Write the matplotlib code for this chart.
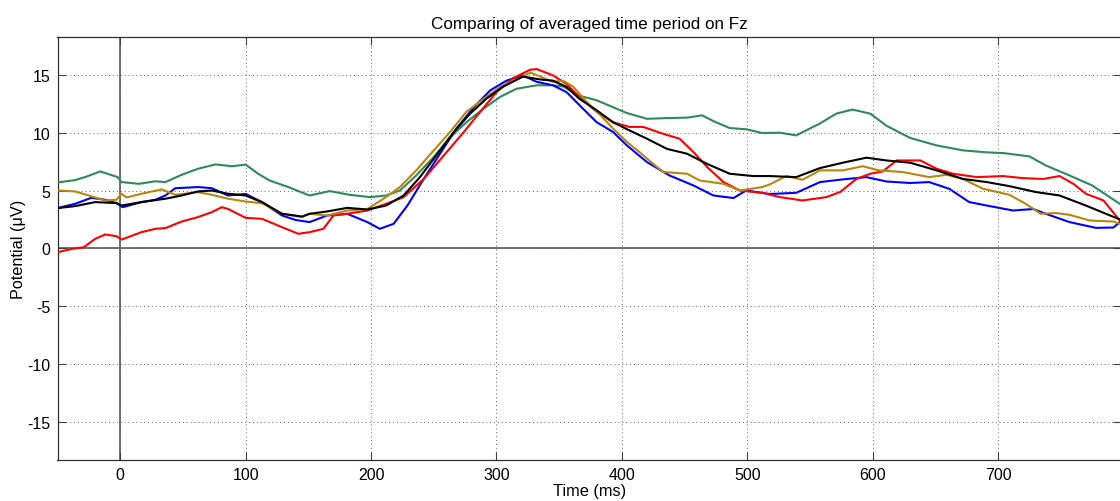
import matplotlib
matplotlib.use("Agg")
import matplotlib.pyplot as plt

plt.rcParams['font.family'] = ['Liberation Sans', 'DejaVu Sans']
plt.rcParams['axes.unicode_minus'] = False

title = "Comparing of averaged time period on Fz"
xlabel = "Time (ms)"
ylabel = "Potential (\u03bcV)"
xticks = [0, 100, 200, 300, 400, 500, 600, 700]
yticks = [-15, -10, -5, 0, 5, 10, 15]

# ---- series (time in ms, potential in uV) ----
green_t = [-50, -36, -27, -16, -2, 1, 15, 28, 36, 49, 62, 76, 89, 100, 110, 119, 134, 146,
           151, 167, 183, 199, 212, 223, 236, 250, 263, 276, 290, 303, 316, 332, 345,
           353, 366, 380, 393, 404, 420, 438, 452, 464, 473, 486, 499, 512, 526,
           539, 558, 571, 584, 598, 611, 630, 651, 672, 691, 704, 725, 738, 757, 775, 797]
green_y = [5.7, 5.9, 6.2, 6.65, 6.16, 5.73, 5.58, 5.8, 5.73, 6.36, 6.88, 7.26, 7.1, 7.24, 6.45, 5.87, 5.3, 4.78,
           4.57, 4.95, 4.63, 4.43, 4.57, 5.0, 6.3, 7.9, 9.6, 10.9, 12.1, 13.1, 13.8, 14.1, 14.1,
           14.0, 13.2, 12.8, 12.2, 11.7, 11.2, 11.27, 11.3, 11.5, 11.0, 10.4, 10.3, 9.97, 10.0,
           9.77, 10.8, 11.65, 12.0, 11.65, 10.6, 9.54, 8.9, 8.47, 8.3, 8.24, 7.95, 7.17, 6.3, 5.44, 3.85]

black_t = [-50, -36, -20, -3, 1, 17, 36, 49, 62, 73, 86, 100, 113, 129, 145,
           151, 165, 181, 197, 212, 226, 239, 252, 266, 279, 292, 305, 321, 335, 345,
           356, 366, 380, 393, 406, 420, 436, 452, 468, 486, 505, 518,
           539, 558, 576, 595, 611, 630, 651, 672, 691, 709, 730, 749, 770, 797]
black_y = [3.48, 3.65, 4.0, 3.91, 3.7, 4.0, 4.29, 4.57, 4.92, 5.0, 4.72, 4.57, 4.0, 2.99, 2.75,
           2.99, 3.19, 3.5, 3.36, 3.7, 4.57, 6.16, 8.03, 10.06, 11.65, 12.94, 13.96, 14.85, 14.6, 14.5,
           13.95, 12.94, 11.93, 10.9, 10.2, 9.48, 8.6, 8.18, 7.3, 6.45, 6.25, 6.25,
           6.16, 6.94, 7.4, 7.84, 7.6, 7.4, 6.74, 6.0, 5.73, 5.38, 4.87, 4.57, 3.7, 2.5]

blue_t = [-50, -36, -23, -12, -3, 2, 17, 28, 36, 44, 62, 73, 86, 100, 113, 129, 140,
          151, 165, 181, 197, 207, 218, 229, 242, 255, 268, 282, 295, 308, 321, 332, 345,
          356, 366, 380, 393, 404, 420, 438, 457, 473, 489, 499, 518,
          539, 558, 576, 595, 611, 630, 645, 661, 677, 691, 712, 728, 738, 757, 778, 792, 797]
blue_y = [3.48, 3.85, 4.37, 4.2, 3.91, 3.56, 4.0, 4.2, 4.57, 5.2, 5.3, 5.2, 4.57, 4.7, 4.0, 2.84, 2.45,
          2.27, 2.84, 2.99, 2.27, 1.69, 2.12, 3.7, 6.0, 8.18, 10.35, 12.2, 13.66, 14.5, 14.96, 14.4, 14.1,
          13.5, 12.4, 10.9, 10.06, 8.9, 7.46, 6.3, 5.44, 4.57, 4.35, 5.0, 4.7,
          4.8, 5.73, 5.96, 6.16, 5.78, 5.65, 5.73, 5.15, 4.0, 3.7, 3.27, 3.4, 2.99, 2.27, 1.77, 1.8, 2.27]

red_t = [-50, -38, -29, -20, -12, -3, 1, 17, 28, 36, 49, 62, 73, 81, 86, 100, 113, 129, 142,
         151, 162, 170, 181, 197, 212, 226, 242, 258, 274, 287, 300, 313, 327, 332, 345,
         356, 366, 380, 393, 406, 417, 433, 446, 457, 468, 481, 494, 512, 526,
         544, 563, 574, 587, 598, 608, 619, 638, 651, 664, 683, 704, 720, 736, 749, 760, 770, 784, 797]
red_y = [-0.33, -0.04, 0.1, 0.82, 1.2, 1.05, 0.76, 1.4, 1.69, 1.75, 2.32, 2.7, 3.13, 3.56, 3.4, 2.64, 2.55, 1.83, 1.26,
         1.4, 1.69, 2.84, 2.99, 3.27, 3.85, 4.43, 6.0, 8.03, 10.06, 11.8, 13.5, 14.7, 15.45, 15.5, 14.96,
         14.2, 13.1, 11.8, 10.9, 10.5, 10.5, 9.9, 9.48, 8.33, 7.03, 5.73, 5.0, 4.8, 4.43,
         4.14, 4.43, 4.87, 6.0, 6.45, 6.65, 7.6, 7.6, 6.88, 6.45, 6.16, 6.25, 6.07, 6.0, 6.25, 5.58, 4.72, 4.14, 2.41]

gold_t = [-50, -36, -25, -12, -3, 1, 5, 17, 33, 44, 62, 73, 86, 100, 113, 129, 145,
          151, 165, 181, 197, 210, 223, 236, 250, 263, 276, 290, 303, 316, 327, 345,
          353, 361, 372, 383, 393, 404, 414, 425, 433, 452, 462, 481, 494, 512, 518,
          531, 544, 558, 576, 592, 605, 624, 645, 659, 672, 688, 709, 722, 734, 746, 757, 773, 792, 797]
gold_y = [5.0, 4.92, 4.57, 4.14, 4.2, 4.72, 4.4, 4.72, 5.1, 4.63, 4.86, 4.63, 4.29, 4.05, 3.9, 2.99, 2.7,
          2.99, 2.84, 3.27, 3.4, 4.29, 5.3, 6.74, 8.47, 10.06, 11.8, 12.94, 13.96, 14.6, 15.2, 14.4,
          14.5, 14.0, 12.66, 11.5, 10.35, 9.2, 8.33, 7.3, 6.6, 6.45, 5.87, 5.58, 5.0, 5.3, 5.53,
          6.25, 5.93, 6.74, 6.74, 7.1, 6.74, 6.6, 6.16, 6.36, 6.0, 5.15, 4.63, 3.85, 2.99, 3.05, 2.9, 2.41, 2.32, 2.12]

series = [
    (green_t, green_y, '#2e8b57'),
    (blue_t, blue_y, '#0000ff'),
    (red_t, red_y, '#ff0000'),
    (gold_t, gold_y, '#b8860b'),
    (black_t, black_y, '#000000'),
]

fig = plt.figure(figsize=(11.2, 5.02), dpi=100)
ax = fig.add_axes([57.5 / 1120, 1 - 461 / 502, (1121 - 57.5) / 1120, (461 - 37.7) / 502])

ax.axhline(0, color='#707070', lw=1.4, zorder=1)
ax.axvline(0, color='#707070', lw=1.4, zorder=1)

for t, y, c in series:
    ax.plot(t, y, color=c, lw=1.5, zorder=3)

ax.set_xlim(-50, 798)
ax.set_ylim(-18.3, 18.3)
ax.set_xticks(xticks)
ax.set_yticks(yticks)
ax.grid(True, linestyle=(0, (1, 3)), color='#606060', lw=0.7)
ax.tick_params(direction='in', length=5.5, top=True, right=True, labelsize=11.5,
               color='#404040', width=0.8, pad=5)
for s in ax.spines.values():
    s.set_color('#303030')
    s.set_linewidth(0.9)

ax.set_title(title, fontsize=12.3, pad=6)
ax.set_xlabel(xlabel, fontsize=11.7, labelpad=1)
ax.set_ylabel(ylabel, fontsize=11.7, labelpad=1)

fig.savefig('out.png', dpi=100)
